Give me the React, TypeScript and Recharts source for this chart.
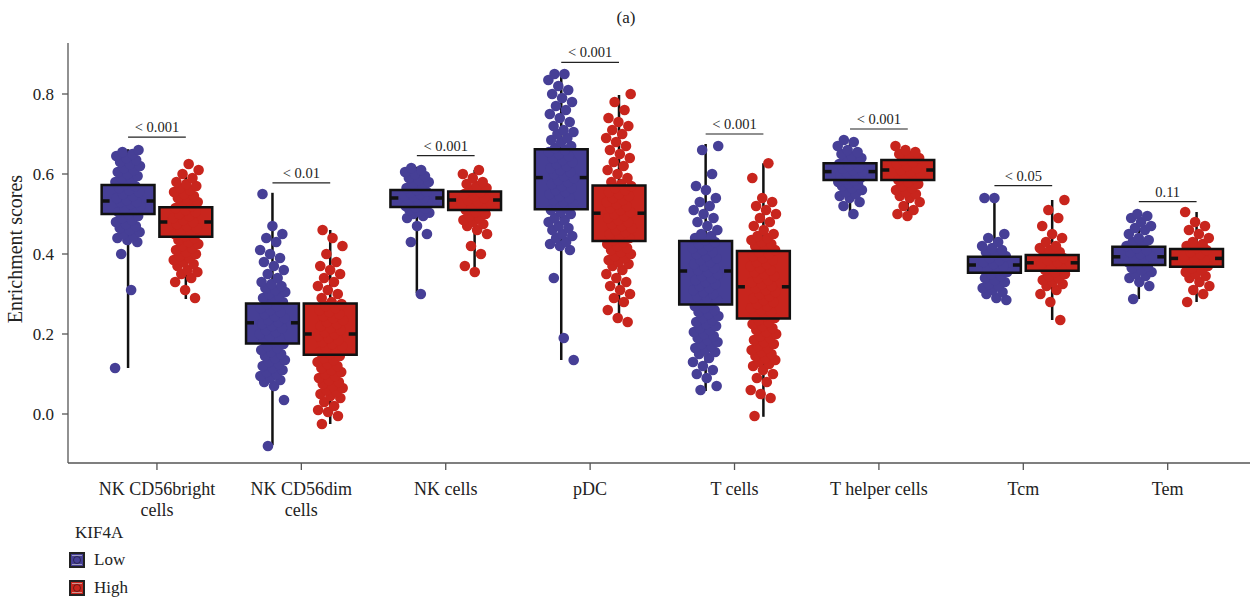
import React from 'react';
import {
  ComposedChart, XAxis, YAxis, Scatter, ReferenceArea, ReferenceLine,
} from 'recharts';

const CATEGORIES = ['NK CD56bright cells', 'NK CD56dim cells', 'NK cells', 'pDC', 'T cells', 'T helper cells', 'Tcm', 'Tem'];
const CATEGORY_LINES = [['NK CD56bright', 'cells'], ['NK CD56dim', 'cells'], ['NK cells'], ['pDC'], ['T cells'], ['T helper cells'], ['Tcm'], ['Tem']];
const Y_TICKS = [0, 0.2, 0.4, 0.6, 0.8];
const GROUPS = ['Low', 'High'];
const GROUP_COLORS = ['#463f96', '#c8251d'];

// Jittered sample scores (one list per category)
const LOW_POINTS = [
  [0.115, 0.31, 0.40, 0.43, 0.435, 0.44, 0.445, 0.45, 0.455, 0.46, 0.465, 0.47, 0.475, 0.48, 0.485, 0.49, 0.495, 0.50, 0.505, 0.51, 0.515, 0.52, 0.525, 0.53, 0.53, 0.535, 0.54, 0.545, 0.55, 0.555, 0.56, 0.565, 0.57, 0.575, 0.58, 0.585, 0.59, 0.595, 0.60, 0.605, 0.61, 0.615, 0.62, 0.625, 0.63, 0.635, 0.64, 0.645, 0.65, 0.655, 0.66],
  [-0.08, 0.035, 0.07, 0.08, 0.085, 0.09, 0.095, 0.10, 0.105, 0.11, 0.115, 0.12, 0.125, 0.13, 0.135, 0.14, 0.145, 0.15, 0.155, 0.16, 0.165, 0.17, 0.175, 0.18, 0.185, 0.19, 0.195, 0.20, 0.205, 0.21, 0.215, 0.22, 0.225, 0.23, 0.235, 0.24, 0.245, 0.25, 0.255, 0.26, 0.265, 0.27, 0.275, 0.28, 0.285, 0.29, 0.295, 0.30, 0.305, 0.31, 0.315, 0.32, 0.325, 0.33, 0.34, 0.35, 0.36, 0.37, 0.38, 0.39, 0.40, 0.41, 0.43, 0.44, 0.45, 0.47, 0.55],
  [0.30, 0.43, 0.45, 0.47, 0.49, 0.495, 0.50, 0.503, 0.506, 0.51, 0.513, 0.516, 0.52, 0.523, 0.526, 0.53, 0.533, 0.536, 0.54, 0.543, 0.546, 0.55, 0.553, 0.556, 0.56, 0.565, 0.57, 0.575, 0.58, 0.585, 0.59, 0.595, 0.60, 0.605, 0.61, 0.615],
  [0.135, 0.19, 0.34, 0.41, 0.42, 0.425, 0.43, 0.44, 0.445, 0.45, 0.46, 0.465, 0.47, 0.48, 0.485, 0.49, 0.50, 0.505, 0.51, 0.515, 0.52, 0.525, 0.53, 0.535, 0.54, 0.545, 0.55, 0.555, 0.56, 0.565, 0.57, 0.575, 0.58, 0.585, 0.59, 0.595, 0.60, 0.605, 0.61, 0.615, 0.62, 0.625, 0.63, 0.635, 0.64, 0.645, 0.65, 0.655, 0.66, 0.665, 0.67, 0.68, 0.685, 0.69, 0.70, 0.705, 0.71, 0.72, 0.73, 0.74, 0.75, 0.76, 0.77, 0.78, 0.79, 0.80, 0.81, 0.82, 0.835, 0.85, 0.85],
  [0.06, 0.07, 0.09, 0.10, 0.11, 0.12, 0.13, 0.14, 0.15, 0.155, 0.16, 0.165, 0.17, 0.175, 0.18, 0.185, 0.19, 0.195, 0.20, 0.205, 0.21, 0.215, 0.22, 0.225, 0.23, 0.235, 0.24, 0.245, 0.25, 0.255, 0.26, 0.265, 0.27, 0.275, 0.28, 0.285, 0.29, 0.295, 0.30, 0.305, 0.31, 0.315, 0.32, 0.325, 0.33, 0.335, 0.34, 0.345, 0.35, 0.355, 0.36, 0.365, 0.37, 0.375, 0.38, 0.385, 0.39, 0.395, 0.40, 0.405, 0.41, 0.415, 0.42, 0.425, 0.43, 0.435, 0.44, 0.445, 0.45, 0.46, 0.47, 0.48, 0.49, 0.50, 0.51, 0.52, 0.53, 0.54, 0.56, 0.57, 0.60, 0.66, 0.67],
  [0.50, 0.52, 0.53, 0.54, 0.545, 0.55, 0.555, 0.56, 0.565, 0.57, 0.573, 0.576, 0.58, 0.583, 0.586, 0.59, 0.593, 0.596, 0.60, 0.603, 0.606, 0.61, 0.613, 0.616, 0.62, 0.625, 0.63, 0.635, 0.64, 0.645, 0.65, 0.655, 0.66, 0.67, 0.68, 0.685],
  [0.285, 0.29, 0.30, 0.305, 0.31, 0.315, 0.32, 0.325, 0.33, 0.335, 0.34, 0.345, 0.35, 0.355, 0.36, 0.365, 0.37, 0.375, 0.38, 0.385, 0.39, 0.395, 0.40, 0.405, 0.41, 0.415, 0.42, 0.43, 0.44, 0.45, 0.54, 0.54],
  [0.2875, 0.32, 0.33, 0.34, 0.345, 0.35, 0.355, 0.36, 0.365, 0.37, 0.375, 0.38, 0.385, 0.39, 0.395, 0.40, 0.405, 0.41, 0.415, 0.42, 0.425, 0.43, 0.435, 0.44, 0.45, 0.46, 0.465, 0.47, 0.48, 0.49, 0.495, 0.50],
];
const HIGH_POINTS = [
  [0.29, 0.31, 0.33, 0.34, 0.35, 0.355, 0.36, 0.37, 0.375, 0.38, 0.385, 0.39, 0.395, 0.40, 0.405, 0.41, 0.415, 0.42, 0.425, 0.43, 0.435, 0.44, 0.445, 0.45, 0.455, 0.46, 0.465, 0.47, 0.475, 0.48, 0.485, 0.49, 0.495, 0.50, 0.505, 0.51, 0.515, 0.52, 0.525, 0.53, 0.535, 0.54, 0.545, 0.55, 0.555, 0.56, 0.565, 0.57, 0.575, 0.58, 0.59, 0.60, 0.61, 0.625],
  [-0.025, -0.005, 0.005, 0.01, 0.02, 0.03, 0.04, 0.045, 0.05, 0.055, 0.06, 0.065, 0.07, 0.075, 0.08, 0.085, 0.09, 0.095, 0.10, 0.105, 0.11, 0.115, 0.12, 0.125, 0.13, 0.135, 0.14, 0.145, 0.15, 0.155, 0.16, 0.165, 0.17, 0.175, 0.18, 0.185, 0.19, 0.195, 0.20, 0.205, 0.21, 0.215, 0.22, 0.225, 0.23, 0.235, 0.24, 0.245, 0.25, 0.255, 0.26, 0.265, 0.27, 0.275, 0.28, 0.29, 0.30, 0.31, 0.32, 0.33, 0.34, 0.35, 0.36, 0.37, 0.38, 0.40, 0.42, 0.44, 0.46],
  [0.355, 0.37, 0.40, 0.42, 0.45, 0.46, 0.47, 0.475, 0.48, 0.485, 0.49, 0.495, 0.50, 0.505, 0.51, 0.515, 0.52, 0.525, 0.53, 0.535, 0.54, 0.545, 0.55, 0.555, 0.56, 0.565, 0.57, 0.575, 0.58, 0.59, 0.60, 0.61],
  [0.23, 0.24, 0.26, 0.28, 0.29, 0.30, 0.31, 0.32, 0.33, 0.34, 0.35, 0.36, 0.37, 0.375, 0.38, 0.385, 0.39, 0.395, 0.40, 0.405, 0.41, 0.415, 0.42, 0.425, 0.43, 0.435, 0.44, 0.445, 0.45, 0.455, 0.46, 0.465, 0.47, 0.475, 0.48, 0.485, 0.49, 0.495, 0.50, 0.505, 0.51, 0.515, 0.52, 0.525, 0.53, 0.535, 0.54, 0.545, 0.55, 0.555, 0.56, 0.565, 0.57, 0.575, 0.58, 0.59, 0.60, 0.61, 0.62, 0.63, 0.64, 0.65, 0.66, 0.67, 0.68, 0.69, 0.70, 0.71, 0.72, 0.73, 0.74, 0.76, 0.78, 0.80],
  [-0.005, 0.04, 0.05, 0.06, 0.08, 0.09, 0.10, 0.11, 0.12, 0.125, 0.13, 0.135, 0.14, 0.145, 0.15, 0.155, 0.16, 0.165, 0.17, 0.175, 0.18, 0.185, 0.19, 0.195, 0.20, 0.205, 0.21, 0.215, 0.22, 0.225, 0.23, 0.235, 0.24, 0.245, 0.25, 0.255, 0.26, 0.265, 0.27, 0.275, 0.28, 0.285, 0.29, 0.295, 0.30, 0.305, 0.31, 0.315, 0.32, 0.325, 0.33, 0.335, 0.34, 0.345, 0.35, 0.355, 0.36, 0.365, 0.37, 0.375, 0.38, 0.385, 0.39, 0.395, 0.40, 0.405, 0.41, 0.415, 0.42, 0.425, 0.43, 0.435, 0.44, 0.445, 0.45, 0.46, 0.47, 0.48, 0.49, 0.50, 0.51, 0.52, 0.53, 0.54, 0.59, 0.627],
  [0.495, 0.50, 0.51, 0.52, 0.53, 0.54, 0.545, 0.55, 0.555, 0.56, 0.565, 0.57, 0.575, 0.58, 0.585, 0.59, 0.595, 0.60, 0.605, 0.61, 0.615, 0.62, 0.625, 0.63, 0.635, 0.64, 0.645, 0.65, 0.655, 0.66, 0.67],
  [0.235, 0.28, 0.30, 0.31, 0.32, 0.325, 0.33, 0.335, 0.34, 0.345, 0.35, 0.355, 0.36, 0.365, 0.37, 0.375, 0.38, 0.385, 0.39, 0.395, 0.40, 0.405, 0.41, 0.415, 0.42, 0.43, 0.44, 0.45, 0.47, 0.49, 0.51, 0.535],
  [0.28, 0.30, 0.31, 0.32, 0.33, 0.34, 0.345, 0.35, 0.355, 0.36, 0.365, 0.37, 0.375, 0.38, 0.385, 0.39, 0.395, 0.40, 0.405, 0.41, 0.415, 0.42, 0.425, 0.43, 0.44, 0.45, 0.46, 0.47, 0.48, 0.505],
];

// Box statistics [Q1, median, Q3] and whisker ends [min, max]
const LOW_BOX = [[0.50, 0.5325, 0.5725], [0.176, 0.228, 0.276], [0.5175, 0.54, 0.56], [0.512, 0.591, 0.662], [0.274, 0.3575, 0.4325], [0.585, 0.606, 0.627], [0.353, 0.3725, 0.393], [0.3725, 0.393, 0.418]];
const HIGH_BOX = [[0.443, 0.48, 0.517], [0.148, 0.20, 0.276], [0.51, 0.535, 0.556], [0.4325, 0.502, 0.571], [0.239, 0.318, 0.4075], [0.585, 0.61, 0.635], [0.358, 0.378, 0.3975], [0.368, 0.389, 0.4125]];
const LOW_WHISKER = [[0.115, 0.662], [-0.078, 0.553], [0.3025, 0.618], [0.135, 0.852], [0.0575, 0.675], [0.493, 0.685], [0.285, 0.54], [0.2875, 0.50]];
const HIGH_WHISKER = [[0.2875, 0.60], [-0.025, 0.46], [0.35, 0.61], [0.2275, 0.7975], [-0.007, 0.627], [0.4975, 0.67], [0.235, 0.535], [0.28, 0.505]];

// Significance annotations
const SIG_LABELS = ['< 0.001', '< 0.01', '< 0.001', '< 0.001', '< 0.001', '< 0.001', '< 0.05', '0.11'];
const SIG_Y = [0.692, 0.578, 0.646, 0.879, 0.70, 0.7125, 0.571, 0.531];

const FONT = '"Liberation Serif", "Times New Roman", serif';
const GROUP_OFFSET = 0.2;
const BOX_HALF = 0.183;
const JITTER = 0.09;
const NOTCH = 0.055;

const jit = (i: number) => (((i * 0.6180339887) % 1) * 2 - 1) * JITTER;

const buildPoints = (lists: number[][], g: number) => {
  const out: { x: number; y: number }[] = [];
  lists.forEach((vals, c) => {
    const cx = c + 0.5 + (g === 0 ? -GROUP_OFFSET : GROUP_OFFSET);
    vals.forEach((v, i) => out.push({ x: cx + jit(i + c * 7 + g * 3), y: v }));
  });
  return out;
};

const lowData = buildPoints(LOW_POINTS, 0);
const highData = buildPoints(HIGH_POINTS, 1);
const sigData = SIG_LABELS.map((label, c) => ({ x: c + 0.5, y: SIG_Y[c], label }));

const CatTick = (props: any) => {
  const { x, y, payload } = props;
  const idx = Math.round(payload.value - 0.5);
  const lines = CATEGORY_LINES[idx] || [CATEGORIES[idx]];
  return (
    <text x={x} y={y} textAnchor="middle" fontFamily={FONT} fontSize={18} fill="#222">
      {lines.map((l, i) => (
        <tspan key={i} x={x} dy={i === 0 ? '0.7em' : 21}>{l}</tspan>
      ))}
    </text>
  );
};

const Dot = (color: string) => (props: any) => (
  <circle cx={props.cx} cy={props.cy} r={5.3} fill={color} />
);

const SigLabel = (props: any) => (
  <text x={props.cx} y={props.cy - 5} textAnchor="middle" fontFamily={FONT} fontSize={14.5} fill="#222">
    {props.payload.label}
  </text>
);

const LegendIcon = ({ color }: { color: string }) => (
  <svg width={16} height={16} style={{ display: 'block' }}>
    <rect x={1} y={1} width={14} height={14} fill={color} stroke="#222" strokeWidth={2} />
    <line x1={3} x2={13} y1={3.5} y2={3.5} stroke="#ddd" strokeWidth={1} opacity={0.6} />
    <line x1={3} x2={13} y1={12.5} y2={12.5} stroke="#ddd" strokeWidth={1} opacity={0.6} />
    <circle cx={8} cy={8} r={3.5} fill={color} stroke="#111" strokeWidth={0.5} />
  </svg>
);

export default function App() {
  const boxes = [LOW_BOX, HIGH_BOX];
  const whiskers = [LOW_WHISKER, HIGH_WHISKER];
  const centers = (c: number, g: number) => c + 0.5 + (g === 0 ? -GROUP_OFFSET : GROUP_OFFSET);

  const whiskerEls: React.ReactNode[] = [];
  const boxFillEls: React.ReactNode[] = [];
  const boxOutlineEls: React.ReactNode[] = [];
  const medianEls: React.ReactNode[] = [];
  for (let g = 0; g < 2; g++) {
    for (let c = 0; c < CATEGORIES.length; c++) {
      const cx = centers(c, g);
      const [q1, med, q3] = boxes[g][c];
      const [lo, hi] = whiskers[g][c];
      whiskerEls.push(
        <ReferenceLine key={`w${g}${c}`} segment={[{ x: cx, y: lo }, { x: cx, y: hi }]} stroke="#111" strokeWidth={2.5} zIndex={100} />
      );
      boxFillEls.push(
        <ReferenceArea key={`bf${g}${c}`} x1={cx - BOX_HALF} x2={cx + BOX_HALF} y1={q1} y2={q3} fill={GROUP_COLORS[g]} fillOpacity={1} stroke="none" zIndex={200} />
      );
      boxOutlineEls.push(
        <ReferenceArea key={`bo${g}${c}`} x1={cx - BOX_HALF} x2={cx + BOX_HALF} y1={q1} y2={q3} fill="none" fillOpacity={0} stroke="#111" strokeWidth={2.5} zIndex={700} />
      );
      medianEls.push(
        <ReferenceLine key={`ml${g}${c}`} segment={[{ x: cx - BOX_HALF, y: med }, { x: cx - BOX_HALF + NOTCH, y: med }]} stroke="#111" strokeWidth={3.5} zIndex={800} />
      );
      medianEls.push(
        <ReferenceLine key={`mr${g}${c}`} segment={[{ x: cx + BOX_HALF - NOTCH, y: med }, { x: cx + BOX_HALF, y: med }]} stroke="#111" strokeWidth={3.5} zIndex={800} />
      );
    }
  }
  const sigLines = SIG_Y.map((y, c) => (
    <ReferenceLine key={`s${c}`} segment={[{ x: centers(c, 0), y }, { x: centers(c, 1), y }]} stroke="#222" strokeWidth={1.2} zIndex={800} />
  ));

  return (
    <div style={{ position: 'absolute', left: 0, top: 0, width: 1252, height: 602, background: '#fff', fontFamily: FONT }}>
      <ComposedChart width={1252} height={602} margin={{ top: 43, right: 2, left: 0, bottom: 99 }}>
        <XAxis
          type="number"
          dataKey="x"
          domain={[-0.116, 8.07]}
          ticks={[0.5, 1.5, 2.5, 3.5, 4.5, 5.5, 6.5, 7.5]}
          interval={0}
          allowDataOverflow
          height={40}
          tickSize={7}
          tickMargin={12}
          stroke="#555"
          strokeWidth={1.3}
          tick={<CatTick />}
        />
        <YAxis
          type="number"
          dataKey="y"
          domain={[-0.1225, 0.9275]}
          ticks={Y_TICKS}
          allowDataOverflow
          width={68}
          tickSize={6}
          tickMargin={8}
          stroke="#555"
          strokeWidth={1.3}
          tickFormatter={(v: number) => v.toFixed(1)}
          tick={{ fontFamily: FONT, fontSize: 17, fill: '#222' }}
        />
        {whiskerEls}
        {boxFillEls}
        <Scatter name={GROUPS[0]} data={lowData} shape={Dot(GROUP_COLORS[0])} isAnimationActive={false} />
        <Scatter name={GROUPS[1]} data={highData} shape={Dot(GROUP_COLORS[1])} isAnimationActive={false} />
        {boxOutlineEls}
        {medianEls}
        {sigLines}
        <Scatter data={sigData} shape={SigLabel} isAnimationActive={false} />
      </ComposedChart>
      <svg width={1252} height={602} style={{ position: 'absolute', left: 0, top: 0, pointerEvents: 'none' }}>
        <text x={626} y={23} textAnchor="middle" fontFamily={FONT} fontSize={17} fill="#222">(a)</text>
        <text transform="translate(22,249) rotate(-90)" textAnchor="middle" fontFamily={FONT} fontSize={20} fill="#222">Enrichment scores</text>
      </svg>
      <div style={{ position: 'absolute', left: 75, top: 523, fontSize: 17, color: '#222', lineHeight: '20px' }}>KIF4A</div>
      {GROUPS.map((g, i) => (
        <div key={g} style={{ position: 'absolute', left: 69, top: 551 + i * 28, display: 'flex', alignItems: 'center', gap: 9, fontSize: 17, color: '#222', lineHeight: '18px' }}>
          <LegendIcon color={GROUP_COLORS[i]} />
          <span>{g}</span>
        </div>
      ))}
    </div>
  );
}
